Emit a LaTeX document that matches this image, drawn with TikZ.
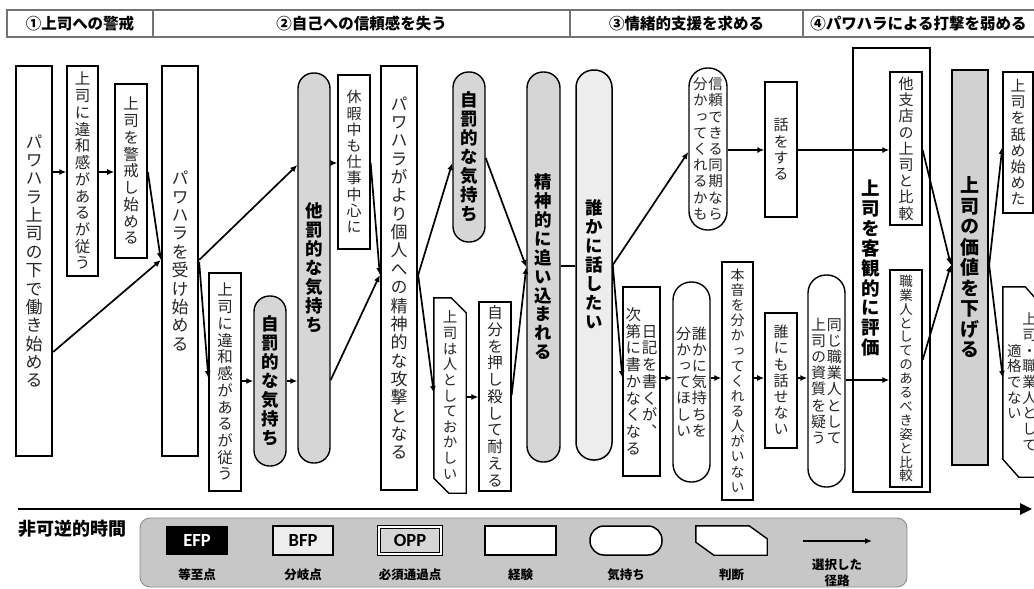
\documentclass[tikz,border=0pt]{standalone}
\usepackage{fontspec}
\usetikzlibrary{arrows.meta}
\newfontfamily\jp{Noto Sans CJK JP}[RawFeature=+vert]
\newfontfamily\jph{Noto Sans CJK JP}
\newfontfamily\lat{Carlito}
\newcommand\fs[1]{\fontsize{#1pt}{#1pt}\selectfont}
\newcommand\vtgap{.08em}
\newcommand\vcsep{.04em}
\ExplSyntaxOn
\NewDocumentCommand\vcol{m}{
  \vbox{ \offinterlineskip
    \tl_map_inline:nn {#1} {
      \hbox_to_wd:nn {1em} { \hss \vrule~width~0pt~height~.88em~depth~.12em \relax ##1 \hss }
      \vskip \vtgap \relax
    }
    \unskip
  }
}
\ExplSyntaxOff
\newcommand\vtwo[2]{\hbox{$\vcenter{\vcol{#2}}$\hskip\vcsep$\vcenter{\vcol{#1}}$}}
\newcommand\judg[4][]{\draw[judgline,#1] (#2.north west) -- ([xshift=-#3]#2.north east) -- ([yshift=-#4]#2.north east) -- (#2.south east) -- ([xshift=#3]#2.south west) -- ([yshift=#4]#2.south west) -- cycle;}
\tikzset{
  base/.style={inner sep=0pt, text=black!85},
  exp/.style={base, draw, line width=1.3pt, fill=white, rectangle},
  expthick/.style={exp, line width=2.3pt},
  feel/.style={base, draw, line width=1.4pt, fill=white},
  opp/.style={feel, fill=black!16, text=black, font=\jp\bfseries\fs{17.5}},
  bfp/.style={feel, line width=1.5pt, fill=black!7, text=black, font=\jp\bfseries\fs{17.5}},
  judg/.style={base},
  judgline/.style={line width=1.4pt, line join=miter},
  arr/.style={line width=1.7pt, -{Latex[length=7pt,width=6pt]}},
  ln/.style={line width=1.7pt},
  hdrline/.style={draw=black!55, line width=1.2pt},
  hdrtxt/.style={inner sep=0pt, font=\jph\bfseries\fs{15.5}},
  leglab/.style={inner sep=0pt, font=\jph\bfseries\fs{12.5}},
  legbox/.style={minimum width=62pt, minimum height=29pt, inner sep=0pt, font=\lat\bfseries\fs{18.5}}
}
\begin{document}
\begin{tikzpicture}[x=1pt,y=-1pt]
\useasboundingbox (0,0) rectangle (1034,589);
% header
\draw[hdrline] (7,10) rectangle (1050,37);
\draw[hdrline] (153,10) -- (153,37);
\draw[hdrline] (570,10) -- (570,37);
\draw[hdrline] (803,10) -- (803,37);
\node[hdrtxt] (h1) at (80,23.5) {①上司への警戒};
\node[hdrtxt] (h2) at (361.5,23.5) {②自己への信頼感を失う};
\node[hdrtxt] (h3) at (686.5,23.5) {③情緒的支援を求める};
\node[hdrtxt] (h4) at (918.5,23.5) {④パワハラによる打撃を弱める};
% nodes
\node[expthick, minimum width=36pt, minimum height=390pt, font=\jp\fs{17}] (n1) at (34,261) {\vcol{パワハラ上司の下で働き始める}};
\node[exp, minimum width=31pt, minimum height=210pt, font=\jp\fs{15.5}] (n2) at (82.5,171) {\vcol{上司に違和感があるが従う}};
\node[exp, line width=1.7pt, minimum width=32pt, minimum height=174pt, font=\jp\fs{15.5}] (n3) at (131,171) {\vcol{上司を警戒し始める}};
\node[expthick, minimum width=36pt, minimum height=390pt, font=\jp\fs{17}] (n4) at (180,261) {\vcol{パワハラを受け始める}};
\node[exp, minimum width=32pt, minimum height=218pt, font=\jp\fs{15.5}] (n5) at (225,382) {\vcol{上司に違和感があるが従う}};
\node[opp, rounded corners=15.5pt, minimum width=32pt, minimum height=170pt] (n6) at (270,381) {\vcol{自罰的な気持ち}};
\node[opp, rounded corners=15.5pt, minimum width=32pt, minimum height=390pt] (tb) at (314,268) {\vcol{他罰的な気持ち}};
\node[exp, minimum width=32pt, minimum height=174pt, font=\jp\fs{15}] (kyuka) at (354,162) {\vcol{休暇中も仕事中心に}};
\node[expthick, minimum width=36pt, minimum height=424pt, font=\jp\fs{17}] (kojin) at (399,278) {\vcol{パワハラがより個人への精神的な攻撃となる}};
\node[opp, rounded corners=15.5pt, minimum width=32pt, minimum height=170pt] (jb2) at (469,157) {\vcol{自罰的な気持ち}};
\node[judg, minimum width=32pt, minimum height=195pt, font=\jp\fs{14.5}] (hito) at (450,395.5) {\vcol{上司は人としておかしい}};
\judg{hito}{15pt}{15pt}
\node[exp, minimum width=32pt, minimum height=189pt, font=\jp\fs{15.5}] (oshi) at (495,396.5) {\vcol{自分を押し殺して耐える}};
\node[opp, rounded corners=16pt, minimum width=33pt, minimum height=390pt] (seishin) at (543.5,267) {\vcol{精神的に追い込まれる}};
\node[bfp, rounded corners=17.5pt, minimum width=36pt, minimum height=390pt] (dare) at (594,265) {\vcol{誰かに話したい}};
\node[feel, rounded corners=18.5pt, minimum width=38pt, minimum height=162pt, font=\jp\fs{14.5}\def\vtgap{.12em}] (shinrai) at (708,149) {\vtwo{信頼できる同期なら}{分かってくれるかも}};
\node[exp, minimum width=32pt, minimum height=135pt, font=\jp\fs{15}] (hanashi) at (781,149.5) {\vcol{話をする}};
\node[exp, minimum width=37pt, minimum height=189pt, font=\jp\fs{15.5}] (nikki) at (641.5,381.5) {\vtwo{日記を書くが、}{次第に書かなくなる}};
\node[feel, rounded corners=18pt, minimum width=37pt, minimum height=200pt, font=\jp\fs{15}] (kimochi) at (691.5,382) {\vtwo{誰かに気持ちを}{分かってほしい}};
\node[exp, minimum width=31pt, minimum height=238pt, font=\jp\fs{14}] (honne) at (737.5,381) {\vcol{本音を分かってくれる人がいない}};
\node[exp, line width=1.7pt, minimum width=32pt, minimum height=135pt, font=\jp\fs{15}] (dare2) at (781,380.5) {\vcol{誰にも話せない}};
\node[feel, rounded corners=18pt, minimum width=37pt, minimum height=212pt, font=\jp\fs{15}] (onaji) at (826.5,381) {\vtwo{同じ職業人として}{上司の資質を疑う}};
\node[expthick, minimum width=77pt, minimum height=444pt] (eval) at (891.5,270) {};
\node[base, text=black, font=\jp\bfseries\fs{18.5}] (evaltxt) at (871,268) {\vcol{上司を客観的に評価}};
\node[exp, minimum width=32pt, minimum height=153pt, font=\jp\fs{15}] (tashiten) at (906,148.5) {\vcol{他支店の上司と比較}};
\node[exp, minimum width=32pt, minimum height=217pt, font=\jp\fs{13.5}\def\vtgap{.03em}] (shoku) at (906,378.5) {\vcol{職業人としてのあるべき姿と比較}};
\node[exp, line width=2.3pt, fill=black!18, text=black, minimum width=36pt, minimum height=395pt, font=\jp\bfseries\fs{19}] (kachi) at (970,267.5) {\vcol{上司の価値を下げる}};
\node[exp, minimum width=30pt, minimum height=141pt, font=\jp\fs{15}] (name) at (1018,142.5) {\vcol{上司を舐め始めた}};
\node[judg, minimum width=38pt, minimum height=190pt, font=\jp\fs{14.5}] (tekikaku) at (1022,382) {\vtwo{上司・職業人として}{適格でない}};
\judg{tekikaku}{16pt}{18pt}
% connectors
\draw[arr] (n1.east |- 0,172) -- (n2.west |- 0,172);
\draw[arr] (n2.east |- 0,172) -- (n3.west |- 0,172);
\draw[arr] (n3.east |- 0,172) -- (n4.west |- 0,260);
\draw[arr] (n1.east |- 0,352) -- (n4.west |- 0,260);
\draw[arr] (n4.east |- 0,260) -- (tb.west |- 0,165);
\draw[arr] (n4.east |- 0,262) -- (n5.west |- 0,378);
\draw[arr] (n5.east |- 0,381) -- (n6.west |- 0,381);
\draw[arr] (n6.east |- 0,381) -- (tb.west |- 0,381);
\draw[arr] (tb.east |- 0,163) -- (kyuka.west |- 0,163);
\draw[arr] (tb.east |- 0,380) -- (kojin.west |- 0,275);
\draw[arr] (kyuka.east |- 0,163) -- (kojin.west |- 0,275);
\draw[arr] (kojin.east |- 0,275) -- (jb2.west |- 0,163);
\draw[arr] (kojin.east |- 0,275) -- (hito.west |- 0,393);
\draw[arr] (hito.east |- 0,397) -- (oshi.west |- 0,397);
\draw[arr] (jb2.east |- 0,158) -- (seishin.west |- 0,267);
\draw[arr] (oshi.east |- 0,395) -- (seishin.west |- 0,267);
\draw[ln] (seishin.east |- 0,266) -- (dare.west |- 0,266);
\draw[arr] (dare.east |- 0,265) -- (shinrai.west |- 0,152);
\draw[arr] (dare.east |- 0,265) -- (nikki.west |- 0,378);
\draw[arr] (shinrai.east |- 0,150) -- (hanashi.west |- 0,150);
\draw[arr] (hanashi.east |- 0,150) -- (tashiten.west |- 0,150);
\draw[arr] (nikki.east |- 0,378) -- (kimochi.west |- 0,378);
\draw[arr] (kimochi.east |- 0,378) -- (honne.west |- 0,378);
\draw[arr] (honne.east |- 0,378) -- (dare2.west |- 0,378);
\draw[arr] (dare2.east |- 0,378) -- (onaji.west |- 0,378);
\draw[arr] (onaji.east |- 0,380) -- (shoku.west |- 0,380);
\draw[arr] (tashiten.east |- 0,150) -- (kachi.west |- 0,265);
\draw[arr] (shoku.east |- 0,360) -- (kachi.west |- 0,265);
\draw[arr] (kachi.east |- 0,265) -- (name.west |- 0,147);
\draw[arr] (kachi.east |- 0,265) -- (tekikaku.west |- 0,378);
% time axis
\coordinate (t0) at (18,509);
\coordinate (t1) at (1032,509);
\draw[line width=2.7pt, -{Triangle[length=12pt,width=11pt]}] (t0) -- (t1);
\node[inner sep=0pt, font=\jph\bfseries\fs{18}] (jikan) at (73,529) {非可逆的時間};
% legend
\node[draw=black!45, line width=.9pt, fill=black!22, rounded corners=10pt, minimum width=767pt, minimum height=69pt] (legend) at (523.5,552.5) {};
\node[legbox, fill=black, text=white] (lefp) at (197,540.5) {EFP};
\node[legbox, draw, line width=2pt, fill=black!7, minimum width=60pt] (lbfp) at (303,540.5) {BFP};
\node[legbox, draw, double, double distance=1.6pt, line width=.9pt, fill=black!16, minimum height=27pt] (lopp) at (410,540.5) {OPP};
\node[legbox, draw, line width=2pt, fill=white, minimum width=71pt] (lexp) at (520.5,540.5) {};
\node[legbox, draw, line width=1.5pt, fill=white, rounded corners=14pt, minimum width=72pt] (lfeel) at (626,540.5) {};
\node[legbox, minimum width=71pt] (ljudg) at (731.5,540.5) {};
\judg[fill=white]{ljudg}{18pt}{13pt}
\coordinate (la0) at (803,541);
\coordinate (la1) at (872,541);
\draw[arr, line width=1.5pt] (la0) -- (la1);
\node[leglab] (lt1) at (197,575) {等至点};
\node[leglab] (lt2) at (303,575) {分岐点};
\node[leglab] (lt3) at (410,575) {必須通過点};
\node[leglab] (lt4) at (520.5,575) {経験};
\node[leglab] (lt5) at (626,575) {気持ち};
\node[leglab] (lt6) at (731.5,575) {判断};
\node[leglab] (lt7a) at (837,565) {選択した};
\node[leglab] (lt7b) at (837,581) {径路};
\end{tikzpicture}
\end{document}
